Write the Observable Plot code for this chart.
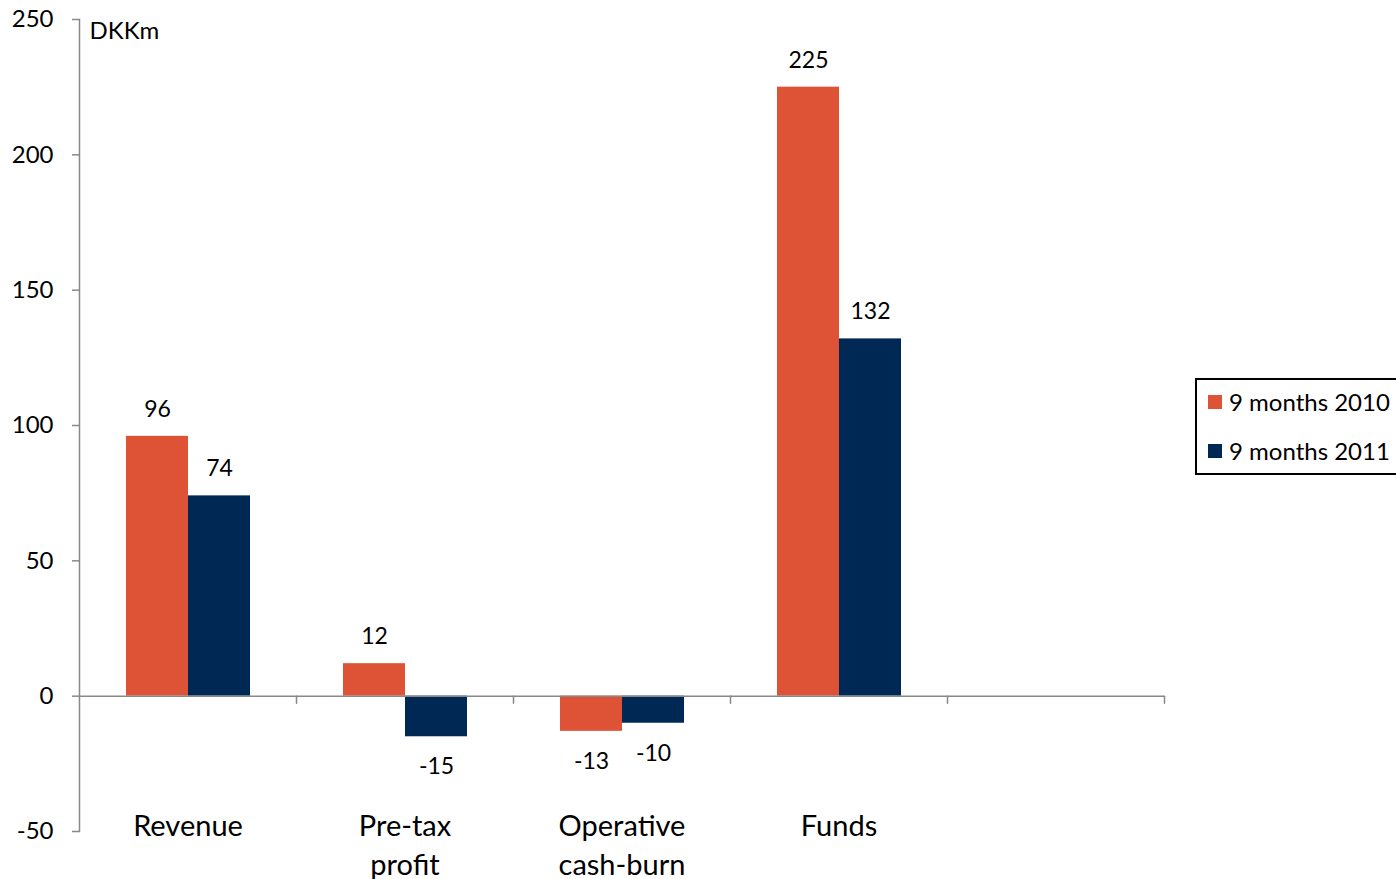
<!DOCTYPE html>
<html><head><meta charset="utf-8">
<script src="https://cdn.jsdelivr.net/npm/d3@7"></script>
<script src="https://cdn.jsdelivr.net/npm/@observablehq/plot@0.6"></script>
<style>
html,body{margin:0;padding:0;background:#fff;overflow:hidden;}
#wrap{position:relative;width:1396px;height:879px;overflow:hidden;font-family:Lato,"Open Sans",sans-serif;color:#000;}
#legend{position:absolute;left:1195px;top:378px;width:230px;height:93px;border:2px solid #000;background:#fff;}
#legend .item{position:absolute;left:11px;height:28px;line-height:28px;font-size:24px;white-space:nowrap;display:flex;align-items:center;}
#legend .sw{display:inline-block;width:14px;height:14px;margin-right:7px;}
</style></head><body><div id="wrap"></div>
<script>
const categories = ["Revenue", "Pre-tax profit", "Operative cash-burn", "Funds", ""];
const seriesNames = ["9 months 2010", "9 months 2011"];
const values2010 = [96, 12, -13, 225];
const values2011 = [74, -15, -10, 132];
const yTicks = [-50, 0, 50, 100, 150, 200, 250];
const colors = ["#DE5335", "#002855"];
const unitLabel = "DKKm";

const rows = [];
categories.forEach((c, i) => {
  if (values2010[i] !== undefined) rows.push({category: c, series: seriesNames[0], value: values2010[i]});
  if (values2011[i] !== undefined) rows.push({category: c, series: seriesNames[1], value: values2011[i]});
});

const tickShape = {draw(ctx, l) { ctx.moveTo(0, 0); ctx.lineTo(0, -l); }};
const axisColor = "#888888";

const chart = Plot.plot({
  width: 1396, height: 879,
  marginLeft: 77, marginRight: 231, marginTop: 19, marginBottom: 48,
  style: {fontFamily: "Lato, 'Open Sans', sans-serif", fontSize: "22px", color: "#000", background: "#fff"},
  fx: {domain: categories, padding: 0, axis: null, label: null},
  x: {domain: seriesNames, paddingInner: 0, paddingOuter: 0.74, axis: null, label: null},
  y: {domain: [-50, 250], axis: null, label: null},
  color: {domain: seriesNames, range: colors},
  marks: [
    Plot.barY(rows, {fx: "category", x: "series", y: "value", fill: "series"}),
    Plot.ruleY([0], {stroke: axisColor, strokeWidth: 1.5}),
    Plot.vector([0], {y: d => d, frameAnchor: "right", length: 7, rotate: 180, anchor: "start", shape: tickShape, stroke: axisColor, strokeWidth: 1.5}),
    Plot.frame({anchor: "left", facetAnchor: "left", stroke: axisColor, strokeWidth: 1.5}),
    Plot.axisY({ticks: yTicks, label: null, tickSize: 7, tickPadding: 19, stroke: axisColor, strokeWidth: 1.5, fontSize: 24, tickFormat: d => String(d)}),
    Plot.text(rows.filter(d => d.value >= 0), {fx: "category", x: "series", y: "value", text: d => String(d.value), dy: -27, fontSize: 23}),
    Plot.text(rows.filter(d => d.value < 0), {fx: "category", x: "series", y: "value", text: d => String(d.value), dy: 30, fontSize: 23}),
    Plot.text(categories, {fx: d => d, text: d => d, frameAnchor: "bottom", lineAnchor: "top", dy: -24, fontSize: 29, lineWidth: 5, lineHeight: 1.36}),
    Plot.text([unitLabel], {fx: () => categories[0], frameAnchor: "top-left", textAnchor: "start", lineAnchor: "middle", dx: 10, dy: 12, fontSize: 24})
  ]
});
const wrap = document.getElementById("wrap");
wrap.appendChild(chart);

const legend = document.createElement("div");
legend.id = "legend";
seriesNames.forEach((s, i) => {
  const item = document.createElement("div");
  item.className = "item";
  item.style.top = (8 + 49 * i) + "px";
  const sw = document.createElement("span");
  sw.className = "sw";
  sw.style.background = colors[i];
  item.appendChild(sw);
  item.appendChild(document.createTextNode(s));
  legend.appendChild(item);
});
wrap.appendChild(legend);
</script></body></html>
